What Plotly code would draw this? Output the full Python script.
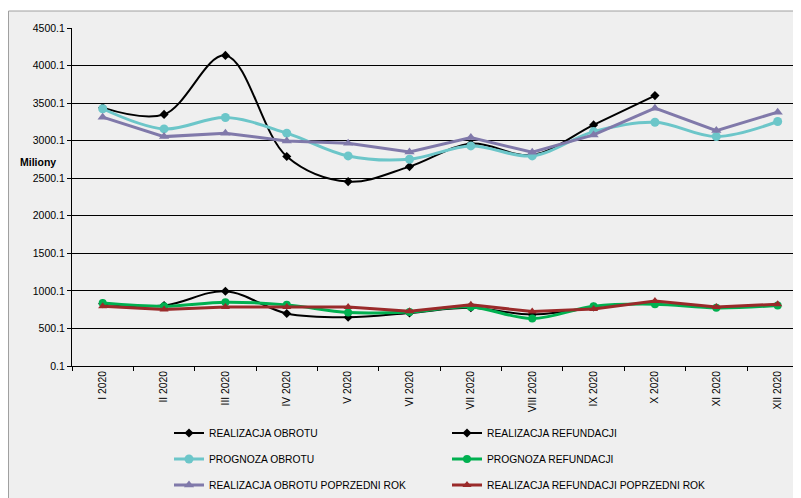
import plotly.graph_objects as go

months = ["I 2020", "II 2020", "III 2020", "IV 2020", "V 2020", "VI 2020",
          "VII 2020", "VIII 2020", "IX 2020", "X 2020", "XI 2020", "XII 2020"]

real_obrot = [3440, 3350, 4135, 2790, 2455, 2655, 2960, 2810, 3210, 3600, None, None]
real_refund = [830, 805, 995, 700, 650, 707, 775, 686, 785, None, None, None]
prog_obrot = [3425, 3157, 3308, 3100, 2797, 2753, 2930, 2797, 3121, 3246, 3055, 3255]
prog_refund = [840, 796, 850, 814, 712, 720, 787, 632, 796, 823, 774, 805]
prev_obrot = [3313, 3054, 3100, 2997, 2966, 2850, 3041, 2846, 3077, 3433, 3134, 3380]
prev_refund = [796, 752, 787, 787, 787, 729, 814, 725, 760, 867, 787, 823]

y_ticks = [0.1, 500.1, 1000.1, 1500.1, 2000.1, 2500.1, 3000.1, 3500.1, 4000.1, 4500.1]
y_tick_labels = ["0.1", "500.1", "1000.1", "1500.1", "2000.1", "2500.1",
                 "3000.1", "3500.1", "4000.1", "4500.1"]

FONT = "Liberation Sans, Arial, sans-serif"

# name, values, colour, line width, line shape, marker symbol, marker size, legend row
series = [
    ("REALIZACJA OBROTU", real_obrot, "#000000", 2, "spline", "diamond", 7, "legend"),
    ("REALIZACJA REFUNDACJI", real_refund, "#000000", 2, "spline", "diamond", 7, "legend"),
    ("PROGNOZA OBROTU", prog_obrot, "#6cc6c9", 3, "spline", "circle", 9, "legend2"),
    ("PROGNOZA REFUNDACJI", prog_refund, "#00b050", 3, "spline", "circle", 8, "legend2"),
    ("REALIZACJA OBROTU POPRZEDNI ROK", prev_obrot, "#8079aa", 3, "linear", "triangle-up", 9, "legend3"),
    ("REALIZACJA REFUNDACJI POPRZEDNI ROK", prev_refund, "#9a2a2a", 3, "linear", "triangle-up", 8, "legend3"),
]

fig = go.Figure()
for name, vals, color, lw, shape, sym, ms, leg in series:
    line = dict(color=color, width=lw, shape=shape)
    if shape == "spline":
        line["smoothing"] = 1.0
    fig.add_trace(go.Scatter(
        x=months, y=vals, name=name, mode="lines+markers",
        line=line,
        marker=dict(symbol=sym, size=ms, color=color),
        legend=leg,
    ))

# page has an 8px body margin, so figure coords = reference coords - 8
W, H = 793, 490
L, R, T, B = 64, 0, 20, 132
PW, PH = W - L - R, H - T - B


def px_x(px):
    return (px - L) / PW


def px_y(py):
    return (H - B - py) / PH


# outer chart border / background
fig.add_shape(type="rect", xref="paper", yref="paper",
              x0=px_x(0.5), x1=px_x(W + 20), y0=px_y(H + 20), y1=px_y(3),
              fillcolor="#efefef", line=dict(color="#a0a0a0", width=1), layer="below")

leg_common = dict(orientation="h", xref="container", yref="container",
                  xanchor="left", yanchor="middle", entrywidth=233,
                  font=dict(family=FONT, size=10.3, color="#000000"),
                  bgcolor="rgba(0,0,0,0)", itemclick=False)
lx = 161 / W
fig.update_layout(
    width=W, height=H,
    margin=dict(l=L, r=R, t=T, b=B),
    paper_bgcolor="#ffffff",
    plot_bgcolor="#efefef",
    font=dict(family=FONT, size=10, color="#000000"),
    legend=dict(x=lx, y=1 - 425 / H, **leg_common),
    legend2=dict(x=lx, y=1 - 451 / H, **leg_common),
    legend3=dict(x=lx, y=1 - 477 / H, **leg_common),
    xaxis=dict(
        type="category", range=[-0.5, 11.38],
        tickangle=-90, tickson="boundaries", ticks="outside", ticklen=4,
        tickcolor="#000000", showline=True, linecolor="#000000", linewidth=1,
        showgrid=False, tickfont=dict(family=FONT, size=10.3, color="#000000"),
    ),
    yaxis=dict(
        range=[0.1, 4500.1], tickvals=y_ticks, ticktext=y_tick_labels,
        ticks="outside", ticklen=4, tickcolor="#000000",
        showline=True, linecolor="#000000", linewidth=1,
        showgrid=True, gridcolor="#000000", gridwidth=1, zeroline=False,
        tickfont=dict(family=FONT, size=10.5, color="#000000"),
    ),
    annotations=[dict(
        text="<b>Miliony</b>", xref="paper", yref="paper",
        x=px_x(10), y=px_y(154), xanchor="left", yanchor="middle",
        showarrow=False, font=dict(family=FONT, size=10.5, color="#000000"),
    )],
)

fig.write_html("out.html")
